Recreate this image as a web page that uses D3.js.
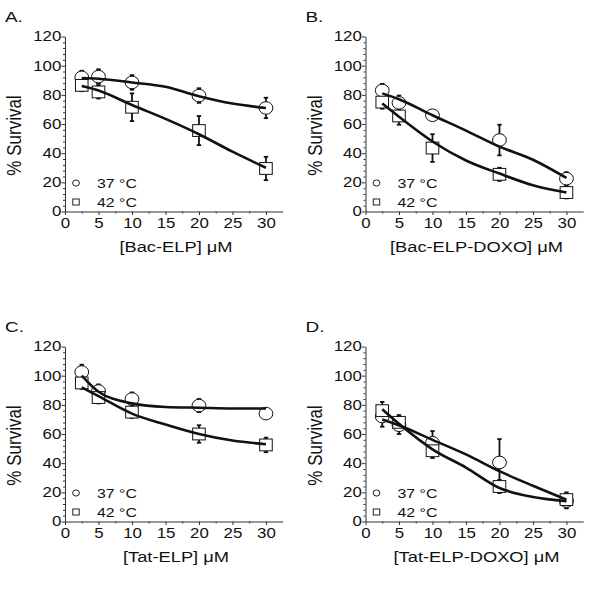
<!DOCTYPE html>
<html><head><meta charset="utf-8">
<script src="https://cdn.jsdelivr.net/npm/d3@7"></script>
<style>body{margin:0;background:#fff} text{font-family:"Liberation Sans",Arial,sans-serif;fill:#111}</style>
</head><body><svg id="c" width="600" height="593"></svg>
<script>
// ---- data ----
const concX = [2.5, 5, 10, 20, 30];
const fitX = [2.5, 5, 10, 15, 20, 25, 30];
const panelLabels = ["A.", "B.", "C.", "D."];
const xTitles = ["[Bac-ELP] \u03BCM", "[Bac-ELP-DOXO] \u03BCM", "[Tat-ELP] \u03BCM", "[Tat-ELP-DOXO] \u03BCM"];
const surv37 = [[92, 92.5, 88.5, 79.5, 71], [83, 74.5, 66, 49, 22.5], [102.5, 89.5, 84, 79.5, 74], [72, 66, 54, 40.5, 14]];
const err37 = [[4.5, 5, 5, 5, 7], [4.5, 5, 3, 10.5, 4.5], [5, 4.5, 4.5, 4.5, 3], [7, 6, 8, 16, 5]];
const surv42 = [[86.5, 82, 71.5, 55.5, 29.5], [75, 65.5, 43.5, 25.5, 13], [95, 85, 75, 60, 52.5], [76, 68, 48.5, 24, 15]];
const err42 = [[4, 4.5, 9.5, 10, 8], [4.5, 6, 9.5, 4.5, 4], [4, 4, 4, 6, 5], [6, 5, 5, 4.5, 5]];
const fit37 = [[91.5, 91, 88.5, 85.5, 79, 74, 71], [81, 77, 66, 55.5, 44.5, 35.5, 23], [100, 89, 81, 78.5, 78, 77.5, 77.5], [70, 66, 56, 46, 34.5, 24.5, 15]];
const fit42 = [[86, 83, 73, 63.5, 53, 41, 30], [74, 65, 48, 35, 26, 18, 13], [92, 86, 74, 66.5, 60, 55.5, 53], [77, 67, 49.5, 37, 23, 16.8, 14]];
const yTicks = [0, 20, 40, 60, 80, 100, 120];
const xTicks = [0, 5, 10, 15, 20, 25, 30];
const legendLabels = ["37 \u00B0C", "42 \u00B0C"];
const yTitle = "% Survival";

// ---- layout ----
const SX = 1.22; // horizontal stretch of the original figure
const origins = [[65, 211.5], [365.5, 211.5], [65, 521.5], [365.5, 521.5]];
const svg = d3.select("#c");

origins.forEach(([ox, oy], p) => {
  const x = d3.scaleLinear().domain([0, 32.5]).range([ox, ox + 217.7]);
  const y = d3.scaleLinear().domain([0, 120]).range([oy, oy - 175]);
  const g = svg.append("g");

  // minor ticks
  g.append("g").attr("transform", `translate(${ox},0)`)
    .call(d3.axisLeft(y).tickValues(d3.range(0, 121, 4).filter(v => v % 20)).tickSize(2).tickFormat("").tickSizeOuter(0))
    .call(a => a.select(".domain").remove());
  g.append("g").attr("transform", `translate(0,${oy})`)
    .call(d3.axisBottom(x).tickValues(d3.range(2.5, 32.5, 5)).tickSize(2).tickFormat("").tickSizeOuter(0))
    .call(a => a.select(".domain").remove());

  const ya = g.append("g").attr("transform", `translate(${ox},0)`)
    .call(d3.axisLeft(y).tickValues(yTicks).tickSize(3.5).tickPadding(0.2).tickSizeOuter(0));
  const xa = g.append("g").attr("transform", `translate(0,${oy})`)
    .call(d3.axisBottom(x).tickValues(xTicks).tickSize(3.5).tickPadding(3.5).tickSizeOuter(0));
  [ya, xa].forEach(a => {
    a.selectAll("text").attr("font-size", 13.8).attr("font-family", "Liberation Sans, Arial, sans-serif")
      .attr("fill", "#111").attr("transform", `scale(${SX},1)`);
    a.selectAll("line,path").attr("stroke", "#333");
  });
  ya.selectAll(".tick text").attr("x", -3.7 / SX);
  g.selectAll(".tick line").attr("stroke", "#333");

  // titles
  g.append("text").attr("transform", `translate(${ox - 60},${oy - 189.5}) scale(${SX},1)`)
    .attr("font-size", 15.5).text(panelLabels[p]);
  g.append("text").attr("transform", `translate(${ox + 111},${oy + 40.5}) scale(${SX},1)`)
    .attr("text-anchor", "middle").attr("font-size", 15).text(xTitles[p]);
  g.append("text").attr("transform", `translate(${ox - 44},${oy - 76}) scale(${SX},1) rotate(-90)`)
    .attr("text-anchor", "middle").attr("font-size", 17).text(yTitle);

  // error bars
  const drawErr = (vals, errs) => {
    vals.forEach((v, i) => {
      const cx = x(concX[i]);
      g.append("line").attr("x1", cx).attr("x2", cx).attr("y1", y(v - errs[i])).attr("y2", y(v + errs[i]))
        .attr("stroke", "#111").attr("stroke-width", 1.8);
      [v - errs[i], v + errs[i]].forEach(e => g.append("line").attr("x1", cx - 2.2).attr("x2", cx + 2.2)
        .attr("y1", y(e)).attr("y2", y(e)).attr("stroke", "#111").attr("stroke-width", 1.8));
    });
  };
  drawErr(surv37[p], err37[p]);
  drawErr(surv42[p], err42[p]);

  // markers
  g.selectAll(null).data(surv37[p]).enter().append("ellipse")
    .attr("cx", (d, i) => x(concX[i])).attr("cy", d => y(d)).attr("rx", 6.9).attr("ry", 6.3)
    .attr("fill", "#fff").attr("stroke", "#111").attr("stroke-width", 1);
  g.selectAll(null).data(surv42[p]).enter().append("rect")
    .attr("x", (d, i) => x(concX[i]) - 6.3).attr("y", d => y(d) - 5.9).attr("width", 12.6).attr("height", 11.8)
    .attr("fill", "#fff").attr("stroke", "#111").attr("stroke-width", 1);

  // fit curves (drawn over the markers)
  const line = d3.line().x((d, i) => x(fitX[i])).y(d => y(d)).curve(d3.curveMonotoneX);
  [fit37[p], fit42[p]].forEach(f => {
    g.append("path").attr("d", line(f)).attr("fill", "none").attr("stroke", "#111").attr("stroke-width", 2.6);
  });

  // legend
  g.append("ellipse").attr("cx", ox + 11).attr("cy", oy - 28.5).attr("rx", 3.4).attr("ry", 3.1)
    .attr("fill", "none").attr("stroke", "#222");
  g.append("rect").attr("x", ox + 7.8).attr("y", oy - 12.5).attr("width", 6.4).attr("height", 6)
    .attr("fill", "none").attr("stroke", "#222");
  legendLabels.forEach((t, i) => {
    g.append("text").attr("transform", `translate(${ox + 32},${oy - 23.5 + i * 19}) scale(${SX},1)`)
      .attr("font-size", 13).attr("fill", "#333").text(t);
  });
});
</script></body></html>
